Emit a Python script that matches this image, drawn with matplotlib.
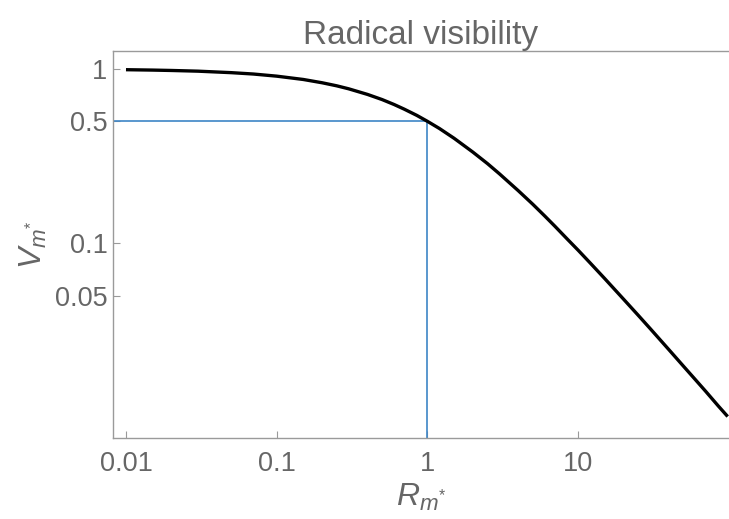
import matplotlib
matplotlib.use("Agg")
import matplotlib.pyplot as plt

# values
r_vals = [0.01, 0.015, 0.02, 0.03, 0.05, 0.07, 0.1, 0.15, 0.2, 0.25, 0.3,
          0.4, 0.5, 0.6, 0.7, 0.85, 1.0, 1.2, 1.5, 2.0, 2.5, 3.0, 4.0, 5.0,
          6.0, 7.0, 8.5, 10.0, 12.0, 15.0, 20.0, 25.0, 30.0, 40.0, 50.0,
          60.0, 70.0, 85.0, 98.0]
v_vals = [0.990, 0.985, 0.980, 0.971, 0.952, 0.935, 0.909, 0.870, 0.833,
          0.800, 0.769, 0.714, 0.667, 0.625, 0.588, 0.541, 0.500, 0.455,
          0.400, 0.333, 0.286, 0.250, 0.200, 0.167, 0.143, 0.125, 0.105,
          0.0909, 0.0769, 0.0625, 0.0476, 0.0385, 0.0323, 0.0244, 0.0196,
          0.0164, 0.0141, 0.0116, 0.0101]

# marker point (R=1, V=0.5)
r_mark = 1.0
v_mark = 0.5

x_ticks = [0.01, 0.1, 1, 10]
x_labels = ["0.01", "0.1", "1", "10"]
y_ticks = [1, 0.5, 0.1, 0.05]
y_labels = ["1", "0.5", "0.1", "0.05"]

TEXT = "#666666"
FRAME = "#9a9a9a"

plt.rcParams["font.family"] = ["Liberation Sans", "DejaVu Sans"]
plt.rcParams["mathtext.fontset"] = "custom"
plt.rcParams["mathtext.it"] = "Liberation Sans:italic"
plt.rcParams["mathtext.rm"] = "Liberation Sans"

fig = plt.figure(figsize=(7.29, 5.19), dpi=100)
ax = fig.add_axes([0.155, 0.156, 0.845, 0.746])

ax.set_xscale("log")
ax.set_yscale("log")
ax.set_xlim(0.0082, 100)
ax.set_ylim(0.0076, 1.27)

ax.plot([ax.get_xlim()[0], r_mark], [v_mark, v_mark], color="#3d85c6", lw=1.2)
ax.plot([r_mark, r_mark], [ax.get_ylim()[0], v_mark], color="#3d85c6", lw=1.2)
ax.plot(r_vals, v_vals, color="black", lw=2.4, solid_capstyle="butt")

ax.set_xticks(x_ticks)
ax.set_xticklabels(x_labels)
ax.set_yticks(y_ticks)
ax.set_yticklabels(y_labels)
ax.minorticks_off()
ax.tick_params(direction="in", length=5, width=0.8, color=FRAME,
               labelcolor=TEXT, labelsize=19.5)
ax.tick_params(axis="y", pad=4)
ax.tick_params(axis="x", pad=9)

for side in ["left", "bottom", "top"]:
    ax.spines[side].set_color(FRAME)
    ax.spines[side].set_linewidth(1.0)
ax.spines["right"].set_visible(False)

ax.set_title("Radical visibility", color=TEXT, fontsize=24, pad=3)
ax.set_xlabel(r"$R_{m^{*}}$", color=TEXT, fontsize=23, labelpad=4)
ax.set_ylabel(r"$V_{m^{*}}$", color=TEXT, fontsize=23, labelpad=4)

fig.savefig("out.png", dpi=100)
